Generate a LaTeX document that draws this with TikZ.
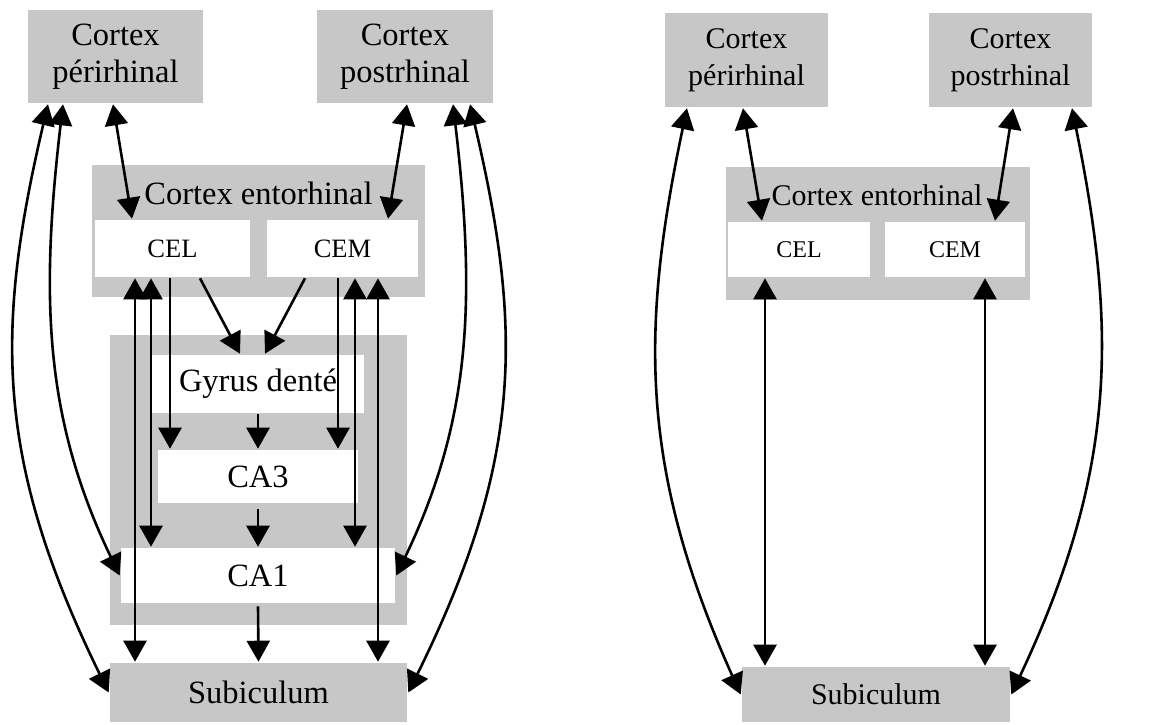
\documentclass[tikz,border=0pt]{standalone}
\usepackage{fontspec}
\setmainfont{Liberation Serif}
\usetikzlibrary{arrows.meta}

\tikzset{every picture/.style={line width=2.6pt}}
\tikzset{
  zone/.style={fill=black!22, inner sep=0pt, align=center},
  band/.style={fill=white, inner sep=0pt, align=center},
  lbig/.style={font=\fontsize{32.5}{37}\selectfont},
  lsmall/.style={font=\fontsize{26.5}{30}\selectfont},
  rbig/.style={font=\fontsize{30}{37}\selectfont},
  rsmall/.style={font=\fontsize{24}{28}\selectfont},
  onearrow/.style={-{Triangle[length=21pt,width=23pt]}},
  biarrow/.style={{Triangle[length=21pt,width=23pt]}-{Triangle[length=21pt,width=23pt]}},
}

\begin{document}
\begin{tikzpicture}[x=1pt,y=1pt,yscale=-1,xscale=1]
\useasboundingbox (0,0) rectangle (1151,724);

% Left diagram: boxes
\node [zone, lbig, minimum width=175, minimum height=93] (peri) at (115.5,56.5) {Cortex\\périrhinal};
\node [zone, lbig, minimum width=176, minimum height=93] (post) at (405,56.5) {Cortex\\postrhinal};
\node [zone, minimum width=333, minimum height=132] (ento) at (258.5,231) {};
\node [lbig, inner sep=0pt] (entolbl) at (258.5,193) {Cortex entorhinal};
\node [band, lsmall, minimum width=155, minimum height=57] (cel) at (172.5,248.5) {CEL};
\node [band, lsmall, minimum width=151, minimum height=57] (cem) at (342.5,248.5) {CEM};
\node [zone, minimum width=297, minimum height=290] (hippo) at (258.5,480) {};
\node [band, lbig, minimum width=212, minimum height=58] (gyrus) at (258,384) {Gyrus denté};
\node [band, lbig, minimum width=200, minimum height=53] (ca3) at (258,476.5) {CA3};
\node [band, lbig, minimum width=274, minimum height=55] (ca1) at (258,575.5) {CA1};
\node [zone, lbig, minimum width=297, minimum height=59] (sub) at (258.5,692.5) {Subiculum};

% Left diagram: connections
\draw [biarrow] (peri.south -| 113,0) -- (cel.north -| 132,0);
\draw [biarrow] (post.south -| 407,0) -- (cem.north -| 388,0);
\draw [biarrow] (cel.south -| 135,0) -- (sub.north -| 135,0);
\draw [biarrow] (cel.south -| 151,0) -- (ca1.north -| 151,0);
\draw [onearrow] (cel.south -| 170,0) -- (ca3.north -| 170,0);
\draw [onearrow] (cem.south -| 338,0) -- (ca3.north -| 338,0);
\draw [biarrow] (cem.south -| 355,0) -- (ca1.north -| 355,0);
\draw [biarrow] (cem.south -| 378,0) -- (sub.north -| 378,0);
\draw [onearrow] (cel.south -| 200,0) -- (gyrus.north -| 240,0);
\draw [onearrow] (cem.south -| 305,0) -- (gyrus.north -| 265,0);
\draw [onearrow] (gyrus.south) -- (ca3.north);
\draw [onearrow] ([yshift=5]ca3.south) -- (ca1.north);
\draw [onearrow] ([yshift=2]ca1.south) -- (sub.north);
\draw [biarrow] (peri.south -| 48,0) .. controls (-5,330) and (-5,460) .. (sub.west);
\draw [biarrow] (peri.south -| 63,0) .. controls (40,300) and (45,420) .. (ca1.west);
\draw [biarrow] (post.south -| 453,0) .. controls (476,300) and (471,420) .. (ca1.east);
\draw [biarrow] (post.south -| 470,0) .. controls (523,330) and (523,460) .. (sub.east);

% Right diagram: boxes
\node [zone, rbig, minimum width=163, minimum height=94] (rperi) at (746.5,60) {Cortex\\périrhinal};
\node [zone, rbig, minimum width=163, minimum height=94] (rpost) at (1010.5,60) {Cortex\\postrhinal};
\node [zone, minimum width=304, minimum height=133] (rento) at (878,233.5) {};
\node [rbig, inner sep=0pt] (rentolbl) at (877,195) {Cortex entorhinal};
\node [band, rsmall, minimum width=142, minimum height=55] (rcel) at (799,249.5) {CEL};
\node [band, rsmall, minimum width=140, minimum height=55] (rcem) at (955,249.5) {CEM};
\node [zone, rbig, minimum width=268, minimum height=55] (rsub) at (876,694.5) {Subiculum};

% Right diagram: connections
\draw [biarrow] (rperi.south -| 743,0) -- (rcel.north -| 762,0);
\draw [biarrow] (rpost.south -| 1013,0) -- (rcem.north -| 995,0);
\draw [biarrow] (rcel.south -| 765,0) -- (rsub.north -| 765,0);
\draw [biarrow] (rcem.south -| 985,0) -- (rsub.north -| 985,0);
\draw [biarrow] (rperi.south -| 687,0) .. controls (640,330) and (640,470) .. (rsub.west);
\draw [biarrow] (rpost.south -| 1072,0) .. controls (1117,330) and (1117,470) .. (rsub.east);

\end{tikzpicture}
\end{document}
